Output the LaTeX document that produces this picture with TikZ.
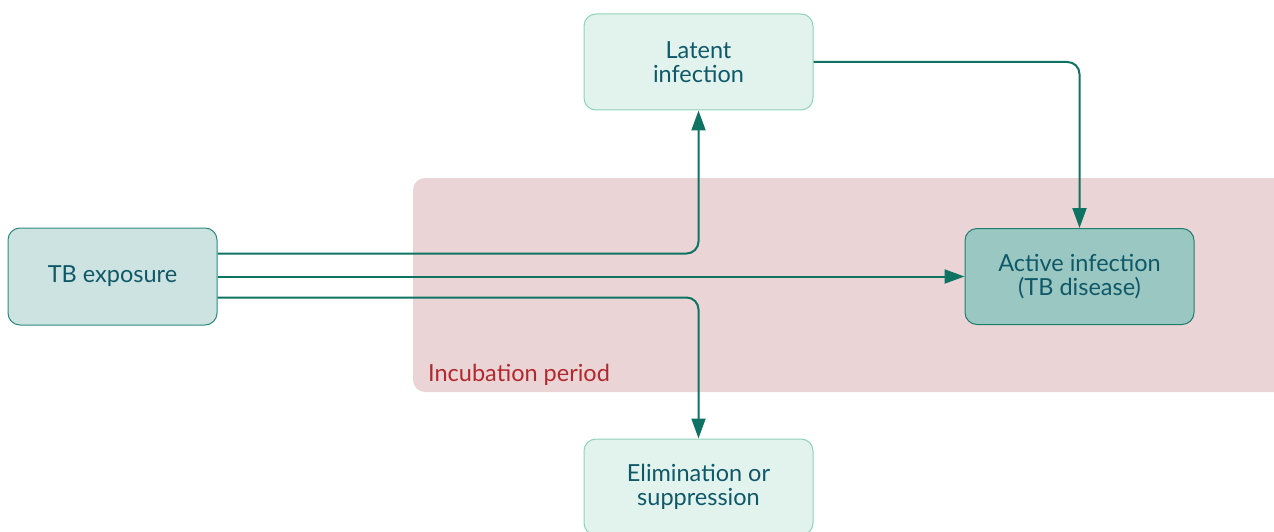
\documentclass[tikz,border=0pt]{standalone}
\usepackage{fontspec}
\setmainfont{Lato}
\usetikzlibrary{arrows.meta,calc}
\definecolor{txt}{HTML}{0E5868}
\definecolor{arrc}{HTML}{0E7363}
\definecolor{pinkbg}{HTML}{EBD4D5}
\definecolor{incub}{HTML}{B1282E}
\definecolor{lightfill}{HTML}{E2F3EE}
\definecolor{lightdraw}{HTML}{8FD3B8}
\definecolor{midfill}{HTML}{CDE3E1}
\definecolor{middraw}{HTML}{2E8B7D}
\definecolor{darkfill}{HTML}{9BC7C2}
\definecolor{darkdraw}{HTML}{1F7D70}
\tikzset{
  lbl/.style={font=\fontsize{23.5}{24}\selectfont},
  box/.style={rounded corners=12pt, minimum width=229pt, minimum height=96pt, align=center,
    text=txt, lbl, line width=1pt, inner sep=0pt},
  lightbox/.style={box, fill=lightfill, draw=lightdraw},
  midbox/.style={box, fill=midfill, draw=middraw, minimum width=209pt, minimum height=97pt},
  darkbox/.style={box, fill=darkfill, draw=darkdraw},
  arr/.style={draw=arrc, line width=2pt, rounded corners=12pt, -{Triangle[length=20pt,width=14pt]}},
}
\begin{document}
\begin{tikzpicture}[x=1pt,y=-1pt]
\useasboundingbox (0,0) rectangle (1274,532);
\clip (0,0) rectangle (1274,532);
\fill[pinkbg, rounded corners=12pt] (413,178) rectangle (1300,392);
\node[anchor=base west, text=incub, lbl, inner sep=0pt] (inc) at (428,381) {Incubation period};
\node[midbox] (tb) at (112.5,276.5) {TB exposure};
\node[lightbox] (lat) at (698.5,62) {Latent\\infection};
\node[darkbox] (act) at (1079.5,276.5) {Active infection\\(TB disease)};
\node[lightbox] (eli) at (698.5,487) {Elimination or\\suppression};
\draw[arr] ($(tb.east)+(0,-23)$) -| (lat.south);
\draw[arr] (tb.east) -- (act.west);
\draw[arr] ($(tb.east)+(0,21)$) -| (eli.north);
\draw[arr] (lat.east) -| (act.north);
\end{tikzpicture}
\end{document}
